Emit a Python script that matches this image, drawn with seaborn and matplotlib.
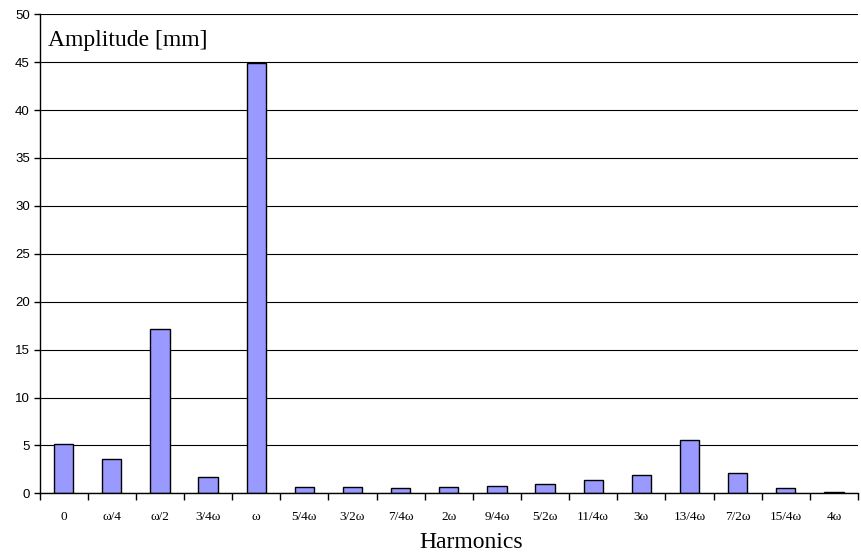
import matplotlib
matplotlib.use("Agg")
import numpy as np
import pandas as pd
import seaborn as sns
import matplotlib.pyplot as plt
from matplotlib.ticker import FixedLocator

# harmonics and amplitude values
harmonics = ['0', 'ω/4', 'ω/2', '3/4ω', 'ω', '5/4ω', '3/2ω', '7/4ω', '2ω',
             '9/4ω', '5/2ω', '11/4ω', '3ω', '13/4ω', '7/2ω', '15/4ω', '4ω']
amplitude = [5.2, 3.6, 17.1, 1.7, 44.9, 0.7, 0.66, 0.6, 0.65,
             0.8, 1.0, 1.4, 1.95, 5.6, 2.15, 0.52, 0.15]
y_ticks = [0, 5, 10, 15, 20, 25, 30, 35, 40, 45, 50]

df = pd.DataFrame({'Harmonics': harmonics, 'Amplitude': amplitude})

sns.set_theme(style="white")
plt.rcParams['font.family'] = ['Liberation Serif', 'DejaVu Serif']
plt.rcParams['text.color'] = 'black'
plt.rcParams['xtick.color'] = 'black'
plt.rcParams['ytick.color'] = 'black'
plt.rcParams['axes.labelcolor'] = 'black'

fig = plt.figure(figsize=(8.61, 5.6), dpi=100)
ax = fig.add_axes([0.0459, 0.119, 0.9506, 0.8556])

sns.barplot(data=df, x='Harmonics', y='Amplitude', color='#9999FF',
            saturation=1, width=0.4, edgecolor='black', linewidth=1.0, ax=ax)

ax.set_ylim(0, 50)
ax.set_xlim(-0.5, len(harmonics) - 0.5)
ax.set_yticks(y_ticks)
ax.set_yticklabels([str(t) for t in y_ticks], family='Liberation Sans', fontsize=9.5)
ax.yaxis.grid(True, color='black', linewidth=0.8)
ax.set_axisbelow(True)

# category boundary ticks, Excel style
ax.xaxis.set_minor_locator(FixedLocator(np.arange(-0.5, len(harmonics), 1.0)))
ax.tick_params(axis='x', which='major', length=0, pad=13, labelsize=9.5)
ax.tick_params(axis='x', which='minor', length=5, width=1, color='black', bottom=True)
ax.tick_params(axis='y', which='major', length=4, width=1, color='black', left=True, pad=3)

for side in ['top', 'right']:
    ax.spines[side].set_visible(False)
for side in ['left', 'bottom']:
    ax.spines[side].set_color('black')
    ax.spines[side].set_linewidth(1.0)

ax.set_ylabel('')
ax.set_xlabel('Harmonics', fontsize=17)
ax.xaxis.set_label_coords(0.528, -0.081)
ax.text(0.01, 0.946, 'Amplitude [mm]', transform=ax.transAxes,
        fontsize=17, va='center', ha='left')

fig.savefig('out.png', dpi=100)
